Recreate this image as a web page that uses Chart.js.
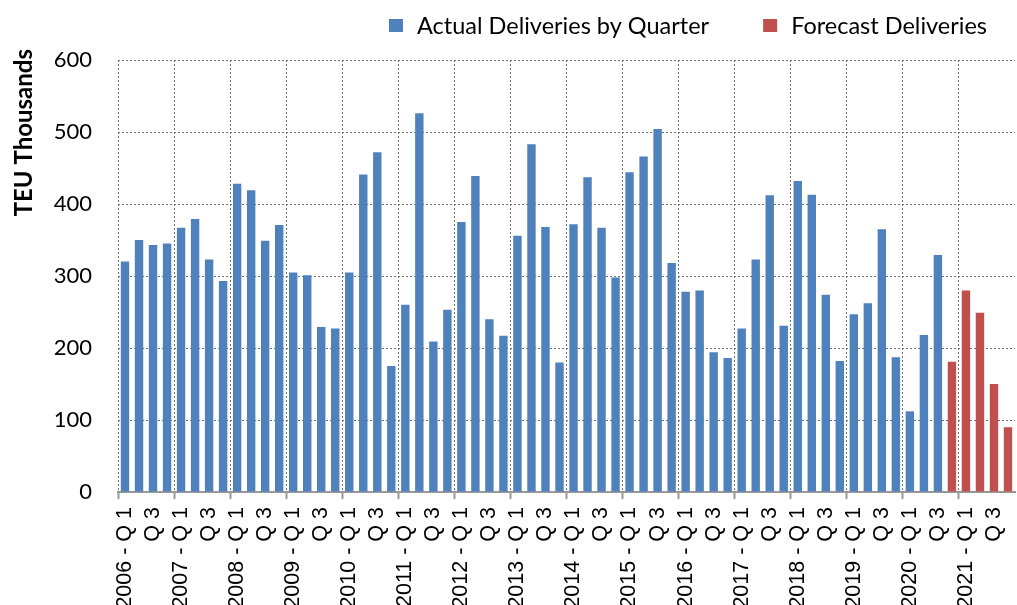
<!DOCTYPE html>
<html>
<head>
<meta charset="utf-8">
<script src="https://cdn.jsdelivr.net/npm/chart.js@4/dist/chart.umd.min.js"></script>
<style>
  html, body { margin: 0; padding: 0; background: #fff; }
  #wrap { width: 1017px; height: 605px; position: relative; }
</style>
</head>
<body>
<div id="wrap"><canvas id="c"></canvas></div>
<script>
// Categories: quarters 2006 Q1 .. 2021 Q4
const years = [2006,2007,2008,2009,2010,2011,2012,2013,2014,2015,2016,2017,2018,2019,2020,2021];
const quarters = ['Q 1','Q 2','Q 3','Q 4'];
const categories = [];
const tickLabels = [];
years.forEach(y => quarters.forEach((q, i) => {
  categories.push(y + ' - ' + q);
  tickLabels.push(i === 0 ? y + ' - ' + q : (i === 2 ? q : ''));
}));

// Actual deliveries 2006 Q1 .. 2020 Q3 (TEU thousands)
const actualValues = [
  320, 350, 343, 345,   // 2006
  367, 379, 323, 293,   // 2007
  428, 419, 349, 371,   // 2008
  305, 301, 229, 227,   // 2009
  305, 441, 472, 175,   // 2010
  260, 526, 209, 253,   // 2011
  375, 439, 240, 217,   // 2012
  356, 483, 368, 180,   // 2013
  372, 437, 367, 298,   // 2014
  444, 466, 504, 318,   // 2015
  278, 280, 194, 186,   // 2016
  227, 323, 412, 231,   // 2017
  432, 413, 274, 182,   // 2018
  247, 262, 365, 187,   // 2019
  112, 218, 329         // 2020 Q1-Q3
];
// Forecast deliveries 2020 Q4 .. 2021 Q4
const forecastValues = [181, 280, 249, 150, 90];

const seriesNames = ['Actual Deliveries by Quarter', 'Forecast Deliveries'];
const seriesColors = ['#4F81BD', '#C0504D'];
const yTicks = [0, 100, 200, 300, 400, 500, 600];

const nCat = categories.length;
const actualData = categories.map((_, i) => i < actualValues.length ? actualValues[i] : null);
const forecastStart = nCat - forecastValues.length;
const forecastData = categories.map((_, i) => i >= forecastStart ? forecastValues[i - forecastStart] : null);

const legendPlugin = {
  id: 'customLegend',
  afterDraw(chart) {
    const ctx = chart.ctx;
    ctx.save();
    ctx.font = '23.5px Lato';
    const box = 14, gapText = 14, gapItem = 54;
    const items = chart.data.datasets.map(ds => ({ text: ds.label, color: ds.backgroundColor, w: ctx.measureText(ds.label).width }));
    let total = 0;
    items.forEach((it, i) => { total += box + gapText + it.w + (i ? gapItem : 0); });
    let x = 987 - total;
    const cy = 26;
    items.forEach(it => {
      ctx.fillStyle = it.color;
      ctx.fillRect(x, cy - 7, box, 13);
      ctx.fillStyle = '#000';
      ctx.textBaseline = 'middle';
      ctx.textAlign = 'left';
      ctx.fillText(it.text, x + box + gapText, cy);
      x += box + gapText + it.w + gapItem;
    });
    ctx.restore();
  }
};

new Chart(document.getElementById('c'), {
  type: 'bar',
  data: {
    labels: categories,
    datasets: [
      { label: seriesNames[0], data: actualData, backgroundColor: seriesColors[0], borderWidth: 0 },
      { label: seriesNames[1], data: forecastData, backgroundColor: seriesColors[1], borderWidth: 0 }
    ]
  },
  options: {
    responsive: true,
    maintainAspectRatio: false,
    animation: false,
    grouped: false,
    barPercentage: 0.6,
    categoryPercentage: 1.0,
    layout: { padding: { top: 60, right: 2, bottom: 0, left: 0 } },
    plugins: {
      legend: { display: false },
      tooltip: { enabled: false }
    },
    scales: {
      x: {
        offset: true,
        grid: {
          offset: true,
          color: c => (c.index % 4 === 0 ? '#707070' : 'rgba(0,0,0,0)'),
          lineWidth: 1,
          tickLength: 7,
          tickWidth: 2,
          tickColor: c => (c.index % 4 === 0 ? '#999999' : 'rgba(0,0,0,0)'),
          tickBorderDash: []
        },
        border: { display: true, color: '#999999', width: 2, dash: [2, 2] },
        ticks: {
          autoSkip: false,
          minRotation: 90,
          maxRotation: 90,
          padding: 8,
          color: '#000',
          font: { family: 'Liberation Sans', size: 21.5 },
          callback: (v, i) => tickLabels[i]
        },
        afterFit: s => { s.height = 113; s.paddingLeft = 0; s.paddingRight = 0; }
      },
      y: {
        min: 0,
        max: 600,
        z: 1,
        afterBuildTicks: s => { s.ticks = yTicks.map(v => ({ value: v })); },
        grid: { color: '#707070', lineWidth: 1, drawTicks: false },
        border: { display: false, dash: [2, 2] },
        ticks: {
          padding: 26,
          color: '#000',
          font: { family: 'Lato', size: 22 }
        },
        title: {
          display: true,
          text: 'TEU Thousands',
          align: 'end',
          color: '#000',
          font: { family: 'Lato', size: 24, weight: 'bold' },
          padding: { top: 10, bottom: 0 }
        },
        afterFit: s => { s.width = 118; },
        afterUpdate: s => {
          if (s._titleShifted) return;
          s._titleShifted = true;
          const orig = s.drawTitle;
          s.drawTitle = function () {
            const t = this.top;
            this.top = t - 11;
            orig.apply(this, arguments);
            this.top = t;
          };
        }
      }
    }
  },
  plugins: [legendPlugin]
});
</script>
</body>
</html>
